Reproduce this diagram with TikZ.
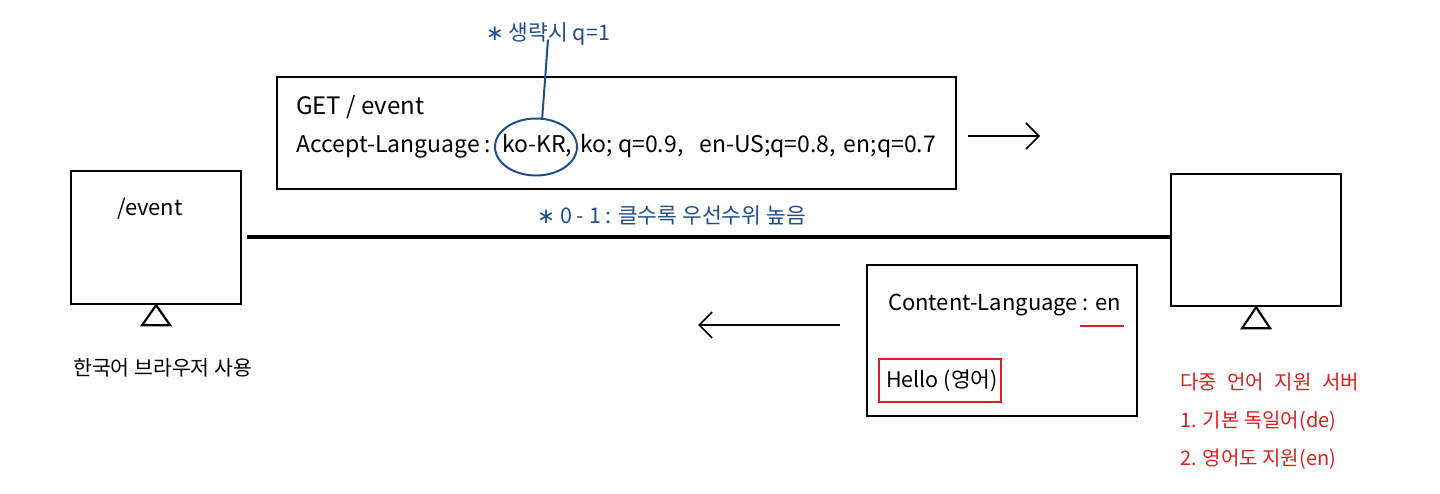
\documentclass[tikz,border=0pt]{standalone}
\usepackage{fontspec}
\setmainfont{Noto Sans CJK KR}
\newfontfamily\djv{DejaVu Sans}
\usetikzlibrary{arrows.meta, shapes.geometric}
\definecolor{nblue}{HTML}{1F4E8C}
\definecolor{nred}{HTML}{D92020}
\begin{document}
\begin{tikzpicture}[x=1pt,y=-1pt,
  box/.style={draw=black, line width=2.2pt, inner sep=0pt, anchor=north west},
  redbox/.style={draw=nred, line width=1.6pt, inner sep=0pt, anchor=north west},
  txt/.style={inner sep=0pt, anchor=west, font=\fontsize{22}{26}\selectfont},
  ktxt/.style={inner sep=0pt, anchor=west, font=\fontsize{20.5}{24}\selectfont},
  bluetxt/.style={inner sep=0pt, text=nblue, font=\fontsize{21.5}{25}\selectfont},
  redtxt/.style={inner sep=0pt, anchor=west, text=nred, font=\fontsize{20}{24}\selectfont},
  tri/.style={draw=black, line width=2.2pt, line join=miter},
  arr/.style={draw=black, line width=1.6pt, -{Straight Barb[length=13pt, width=26pt, line width=1.6pt]}},
  wire/.style={draw=black, line width=3.2pt}]
\useasboundingbox (0,0) rectangle (1440,493);

% client box
\node[box, minimum width=170pt, minimum height=133pt] (client) at (70,170) {};
\node[txt] (ev) at (117,209) {/event};
\draw[tri] (client.south) -- ++(14,20) -- ++(-28,0) -- cycle;
\node[ktxt] (kb) at (73,368) {한국어 브라우저 사용};

% server box
\node[box, minimum width=170pt, minimum height=132pt] (server) at (1170,173) {};
\draw[tri] (server.south) -- ++(14,21) -- ++(-28,0) -- cycle;
\node[redtxt] (s1) at (1180,382) {다중\hspace{6pt} 언어\hspace{6pt} 지원\hspace{6pt} 서버};
\node[redtxt] (s2) at (1180,421) {1. 기본 독일어(de)};
\node[redtxt] (s3) at (1180,459) {2. 영어도 지원(en)};

% connection line
\coordinate (ls) at (247,237);
\coordinate (le) at (1170,237);
\draw[wire] (ls) -- (le);
\node[bluetxt, anchor=west] (prio) at (537,215) {{\djv ∗} 0 - 1 : 클수록 우선수위 높음};

% request box
\node[box, minimum width=679pt, minimum height=112pt] (req) at (276,76) {};
\node[txt, font=\fontsize{24}{28}\selectfont] (get) at (296,107) {GET / event};
\node[txt, font=\fontsize{23}{27}\selectfont] (acc) at (296,146) {Accept-Language :\hspace{4pt} ko-KR,\hspace{8pt}ko; q=0.9,\hspace{16pt}en-US;q=0.8,\hspace{8pt}en;q=0.7};
\node[draw=nblue, line width=2pt, ellipse, minimum width=82pt, minimum height=57pt, inner sep=0pt] (circ) at (536,147) {};
\node[bluetxt, anchor=center] (omit) at (548,34) {{\djv ∗} 생략시 q=1};
\draw[nblue, line width=2pt] (circ.78) -- ([yshift=6pt]omit.south);

% request arrow
\coordinate (r1) at (968,136);
\coordinate (r2) at (1040,136);
\draw[arr] (r1) -- (r2);

% response box
\node[box, minimum width=270pt, minimum height=151pt] (resp) at (866,264) {};
\node[txt] (cl) at (888,305) {Content-Language : en};
\coordinate (u1) at (1080,326);
\coordinate (u2) at (1124,326);
\draw[nred, line width=1.6pt] (u1) -- (u2);
\node[redbox, minimum width=122pt, minimum height=43pt] (hbox) at (878,358) {};
\node[txt, font=\fontsize{21.5}{25}\selectfont] (hello) at (886,381) {Hello (영어)};

% response arrow
\coordinate (p1) at (840,325);
\coordinate (p2) at (698,325);
\draw[arr] (p1) -- (p2);
\end{tikzpicture}
\end{document}
